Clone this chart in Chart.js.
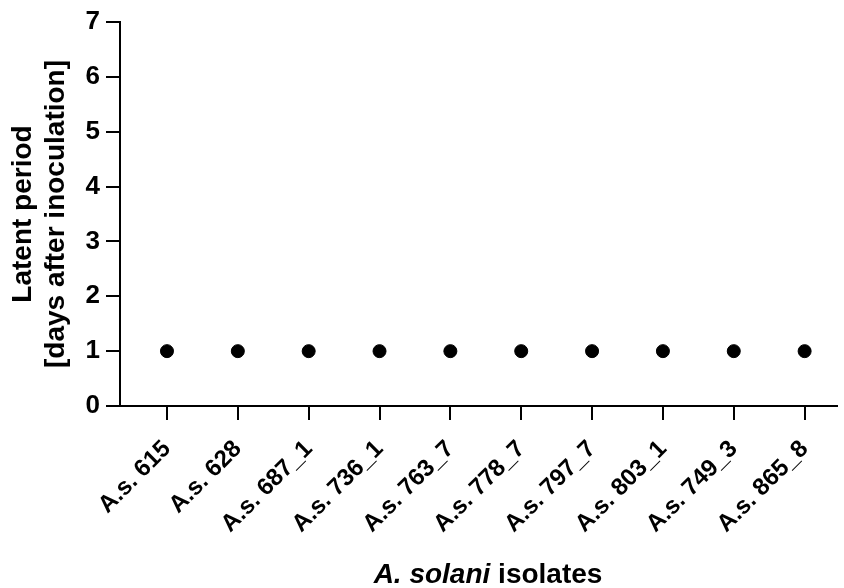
<!DOCTYPE html>
<html>
<head>
<meta charset="utf-8">
<script src="https://cdn.jsdelivr.net/npm/chart.js@4.4.1/dist/chart.umd.min.js"></script>
<style>
  html, body { margin: 0; padding: 0; background: #fff; overflow: hidden; }
  #wrap { width: 844px; height: 588px; position: relative; overflow: hidden; }
  #c { display: block; }
</style>
</head>
<body>
<div id="wrap"><canvas id="c"></canvas></div>
<script>
// Isolates and their latent period (days after inoculation)
const isolates = ['A.s. 615', 'A.s. 628', 'A.s. 687_1', 'A.s. 736_1', 'A.s. 763_7',
                  'A.s. 778_7', 'A.s. 797_7', 'A.s. 803_1', 'A.s. 749_3', 'A.s. 865_8'];
const latentPeriod = [1, 1, 1, 1, 1, 1, 1, 1, 1, 1];
const yTicks = [0, 1, 2, 3, 4, 5, 6, 7];
const yTitle = ['Latent period', '[days after inoculation]'];
const xTitleItalic = 'A. solani';
const xTitleRest = ' isolates';

const FONT = '"Liberation Sans", Arial, Helvetica, sans-serif';

// Draws the x-axis title with an italic species name
const xTitlePlugin = {
  id: 'xTitle',
  afterDraw(chart) {
    const { ctx } = chart;
    ctx.save();
    ctx.fillStyle = '#000';
    ctx.textBaseline = 'alphabetic';
    const fItal = 'italic bold 28px ' + FONT;
    const fBold = 'bold 28px ' + FONT;
    ctx.font = fItal;
    const w1 = ctx.measureText(xTitleItalic).width;
    ctx.font = fBold;
    const w2 = ctx.measureText(xTitleRest).width;
    const cx = 488;
    const y = 583;
    const x = cx - (w1 + w2) / 2;
    ctx.textAlign = 'left';
    ctx.font = fItal;
    ctx.fillText(xTitleItalic, x, y);
    ctx.font = fBold;
    ctx.fillText(xTitleRest, x + w1, y);
    ctx.restore();
  }
};

new Chart(document.getElementById('c'), {
  type: 'scatter',
  data: {
    datasets: [{
      data: latentPeriod.map((v, i) => ({ x: i, y: v })),
      backgroundColor: '#000',
      borderColor: '#000',
      pointRadius: 6.5,
      pointHoverRadius: 6.5
    }]
  },
  options: {
    responsive: true,
    maintainAspectRatio: false,
    animation: false,
    layout: { padding: { top: 22, right: 0, left: 0, bottom: 0 } },
    plugins: { legend: { display: false }, tooltip: { enabled: false } },
    scales: {
      x: {
        type: 'linear',
        min: -0.663,
        max: 9.45,
        afterBuildTicks(scale) { scale.ticks = isolates.map((_, i) => ({ value: i })); },
        afterFit(scale) {
          scale.height = 182;
          scale.paddingLeft = 0;
          scale.paddingRight = 0;
        },
        grid: { drawOnChartArea: false, drawTicks: true, tickLength: 14, color: '#000', lineWidth: 2 },
        border: { color: '#000', width: 2 },
        ticks: {
          autoSkip: false,
          minRotation: 45,
          maxRotation: 45,
          padding: 15,
          color: '#000',
          font: { family: FONT, size: 24, weight: 'bold' },
          callback: (v) => isolates[v]
        }
      },
      y: {
        min: 0,
        max: 7,
        afterBuildTicks(scale) { scale.ticks = yTicks.map(v => ({ value: v })); },
        afterFit(scale) { scale.width = 120; },
        grid: { drawOnChartArea: false, drawTicks: true, tickLength: 14, color: '#000', lineWidth: 2 },
        border: { color: '#000', width: 2 },
        ticks: {
          padding: 6,
          color: '#000',
          font: { family: FONT, size: 26, weight: 'bold' }
        },
        title: {
          display: true,
          text: yTitle,
          color: '#000',
          padding: { top: 7, bottom: 0 },
          font: { family: FONT, size: 28, weight: 'bold', lineHeight: 1.18 }
        }
      }
    }
  },
  plugins: [xTitlePlugin]
});
</script>
</body>
</html>
